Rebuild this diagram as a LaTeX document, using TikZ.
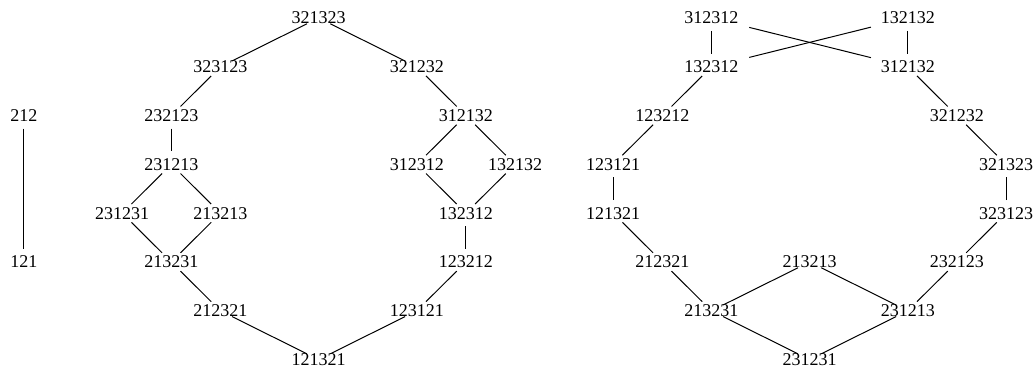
\documentclass[tikz,border=0pt]{standalone}
\usepackage{fontspec}
\setmainfont{Liberation Serif}
\begin{document}
\begin{tikzpicture}[x = 24.55pt, y = -24.4pt, font = \fontsize{9}{11}\selectfont, every node/.style = {inner sep = 0pt}, link/.style = {line width = 0.5pt, shorten <= 6.5pt, shorten >= 6.5pt}]
		\useasboundingbox (-12pt,9pt) rectangle (505pt,-175.5pt);
		% the short one
		\node (s212) at (0,2) {212};
		\node (s121) at (0,5) {121};
		\draw [link] (s212.center) -- (s121.center);
		% middle graph
		\node (a321323) at (6,0) {321323};
		\node (a323123) at (4,1) {323123};
		\node (a321232) at (8,1) {321232};
		\node (a232123) at (3,2) {232123};
		\node (a312132) at (9,2) {312132};
		\node (a231213) at (3,3) {231213};
		\node (a312312) at (8,3) {312312};
		\node (a132132) at (10,3) {132132};
		\node (a231231) at (2,4) {231231};
		\node (a213213) at (4,4) {213213};
		\node (a132312) at (9,4) {132312};
		\node (a213231) at (3,5) {213231};
		\node (a123212) at (9,5) {123212};
		\node (a212321) at (4,6) {212321};
		\node (a123121) at (8,6) {123121};
		\node (a121321) at (6,7) {121321};
		\draw [link] (a321323.center) -- (a323123.center);
		\draw [link] (a321323.center) -- (a321232.center);
		\draw [link] (a323123.center) -- (a232123.center);
		\draw [link] (a232123.center) -- (a231213.center);
		\draw [link] (a231213.center) -- (a231231.center);
		\draw [link] (a231213.center) -- (a213213.center);
		\draw [link] (a231231.center) -- (a213231.center);
		\draw [link] (a213213.center) -- (a213231.center);
		\draw [link] (a213231.center) -- (a212321.center);
		\draw [link] (a212321.center) -- (a121321.center);
		\draw [link] (a321232.center) -- (a312132.center);
		\draw [link] (a312132.center) -- (a312312.center);
		\draw [link] (a312132.center) -- (a132132.center);
		\draw [link] (a312312.center) -- (a132312.center);
		\draw [link] (a132132.center) -- (a132312.center);
		\draw [link] (a132312.center) -- (a123212.center);
		\draw [link] (a123212.center) -- (a123121.center);
		\draw [link] (a123121.center) -- (a121321.center);
		% right graph
		\node (b312312) at (14,0) {312312};
		\node (b132132) at (18,0) {132132};
		\node (b132312) at (14,1) {132312};
		\node (b312132) at (18,1) {312132};
		\node (b123212) at (13,2) {123212};
		\node (b321232) at (19,2) {321232};
		\node (b123121) at (12,3) {123121};
		\node (b321323) at (20,3) {321323};
		\node (b121321) at (12,4) {121321};
		\node (b323123) at (20,4) {323123};
		\node (b212321) at (13,5) {212321};
		\node (b213213) at (16,5) {213213};
		\node (b232123) at (19,5) {232123};
		\node (b213231) at (14,6) {213231};
		\node (b231213) at (18,6) {231213};
		\node (b231231) at (16,7) {231231};
		\draw [link] (b312312.center) -- (b132312.center);
		\draw [link] (b132132.center) -- (b312132.center);
		\draw [link, shorten <= 19.5pt, shorten >= 19pt] (b312312.center) -- (b312132.center);
		\draw [link, shorten <= 19pt, shorten >= 19.5pt] (b132132.center) -- (b132312.center);
		\draw [link] (b132312.center) -- (b123212.center);
		\draw [link] (b123212.center) -- (b123121.center);
		\draw [link] (b123121.center) -- (b121321.center);
		\draw [link] (b121321.center) -- (b212321.center);
		\draw [link] (b212321.center) -- (b213231.center);
		\draw [link] (b213231.center) -- (b213213.center);
		\draw [link] (b213231.center) -- (b231231.center);
		\draw [link] (b213213.center) -- (b231213.center);
		\draw [link] (b231231.center) -- (b231213.center);
		\draw [link] (b231213.center) -- (b232123.center);
		\draw [link] (b232123.center) -- (b323123.center);
		\draw [link] (b323123.center) -- (b321323.center);
		\draw [link] (b321323.center) -- (b321232.center);
		\draw [link] (b321232.center) -- (b312132.center);
	\end{tikzpicture}
\end{document}
